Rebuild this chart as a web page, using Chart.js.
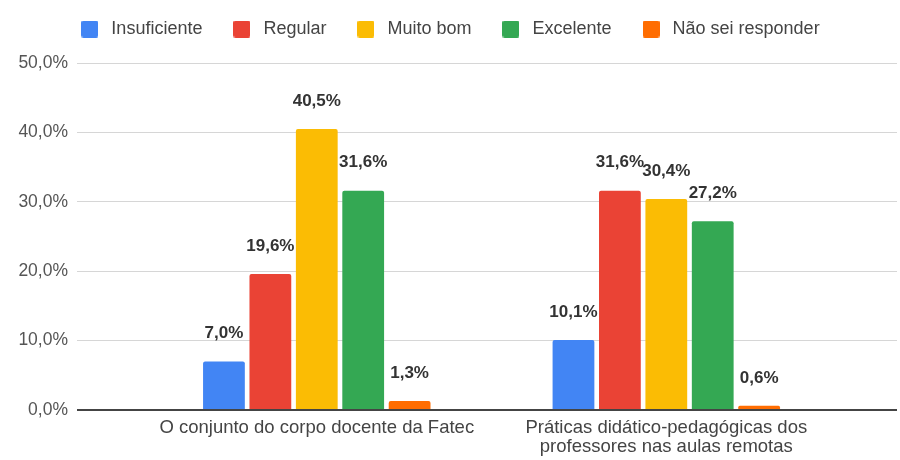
<!DOCTYPE html>
<html>
<head>
<meta charset="utf-8">
<script src="https://cdn.jsdelivr.net/npm/chart.js@4"></script>
<style>
  html, body { margin: 0; padding: 0; background: #fff; }
  #box { width: 900px; height: 460px; }
</style>
</head>
<body>
<div id="box"><canvas id="grafico"></canvas></div>
<script>
// dados
const categorias = ['O conjunto do corpo docente da Fatec', ['Práticas didático-pedagógicas dos', 'professores nas aulas remotas']];
const series = ['Insuficiente', 'Regular', 'Muito bom', 'Excelente', 'Não sei responder'];
const insuficiente = [7.0, 10.1];
const regular = [19.6, 31.6];
const muitoBom = [40.5, 30.4];
const excelente = [31.6, 27.2];
const naoSei = [1.3, 0.6];
const ticksY = [0, 10, 20, 30, 40, 50];

const cores = ['#4285F4', '#EA4335', '#FBBC04', '#34A853', '#FF6D01'];
const fonte = '"Liberation Sans", Arial, sans-serif';

const porcento = v => v.toFixed(1).replace('.', ',') + '%';

// cada categoria vira uma posição 0, 1 no eixo x (linear)
const pontos = valores => valores.map((v, i) => ({ x: i, y: v }));

// quadradinho da legenda (desenhado num canvas pequeno)
const caixa = cor => {
    const c = document.createElement('canvas');
    c.width = 17; c.height = 17;
    const g = c.getContext('2d');
    g.fillStyle = cor;
    g.beginPath();
    g.roundRect(0, 0, 17, 17, 2);
    g.fill();
    return c;
};
const caixas = cores.map(caixa);

// rótulos em cima das barras
const rotulos = {
    id: 'rotulos',
    afterDatasetsDraw(chart) {
        const ctx = chart.ctx;
        ctx.save();
        ctx.font = 'bold 17px ' + fonte;
        ctx.fillStyle = '#333';
        ctx.textAlign = 'center';
        ctx.textBaseline = 'middle';
        chart.data.datasets.forEach((ds, d) => {
            chart.getDatasetMeta(d).data.forEach((bar, i) => {
                ctx.fillText(porcento(ds.data[i].y), bar.x, bar.y - 28);
            });
        });
        ctx.restore();
    }
};

// espaço extra entre a legenda e o gráfico
const espacoLegenda = {
    id: 'espacoLegenda',
    beforeInit(chart) {
        const fit = chart.legend.fit;
        chart.legend.fit = function () {
            fit.bind(chart.legend)();
            this.height += 15;
        };
    }
};

const serie = (i, valores) => ({
    label: series[i],
    data: pontos(valores),
    backgroundColor: cores[i],
    borderWidth: 0,
    borderRadius: 2,
    categoryPercentage: 0.664,
    barPercentage: 0.9
});

document.addEventListener('DOMContentLoaded', () => {
    const ctx = document.getElementById('grafico').getContext('2d');
    new Chart(ctx, {
        type: 'bar',
        data: {
            datasets: [
                serie(0, insuficiente),
                serie(1, regular),
                serie(2, muitoBom),
                serie(3, excelente),
                serie(4, naoSei)
            ]
        },
        options: {
            responsive: true,
            maintainAspectRatio: false,
            animation: false,
            layout: { padding: { top: -7, right: 3, left: 0, bottom: -5 } },
            plugins: {
                legend: {
                    position: 'top',
                    labels: {
                        font: { family: fonte, size: 18 },
                        color: '#444',
                        usePointStyle: true,
                        pointStyleWidth: 25,
                        boxHeight: 17,
                        padding: 27,
                        generateLabels: chart => Chart.defaults.plugins.legend.labels.generateLabels(chart)
                            .map((it, i) => Object.assign(it, { pointStyle: caixas[i] }))
                    }
                },
                tooltip: { enabled: false }
            },
            scales: {
                x: {
                    type: 'linear',
                    offset: false,
                    min: -0.686,
                    max: 1.66,
                    afterBuildTicks: s => { s.ticks = categorias.map((c, i) => ({ value: i })); },
                    grid: { display: false, drawTicks: false },
                    border: { display: false },
                    ticks: {
                        font: { family: fonte, size: 18.5, lineHeight: 1.0 },
                        color: '#444',
                        padding: 9,
                        maxRotation: 0,
                        autoSkip: false,
                        callback: (v, i) => categorias[i]
                    }
                },
                y: {
                    min: 0,
                    max: 50,
                    afterBuildTicks: s => { s.ticks = ticksY.map(v => ({ value: v })); },
                    afterFit: s => { s.width = 77; },
                    border: { display: false },
                    grid: {
                        drawTicks: false,
                        color: c => c.tick.value === 0 ? '#444' : '#d6d6d6',
                        lineWidth: c => c.tick.value === 0 ? 2 : 1
                    },
                    ticks: {
                        font: { family: fonte, size: 17.5 },
                        color: '#555',
                        padding: 9,
                        callback: v => porcento(v)
                    }
                }
            }
        },
        plugins: [rotulos, espacoLegenda]
    });
});
</script>
</body>
</html>
